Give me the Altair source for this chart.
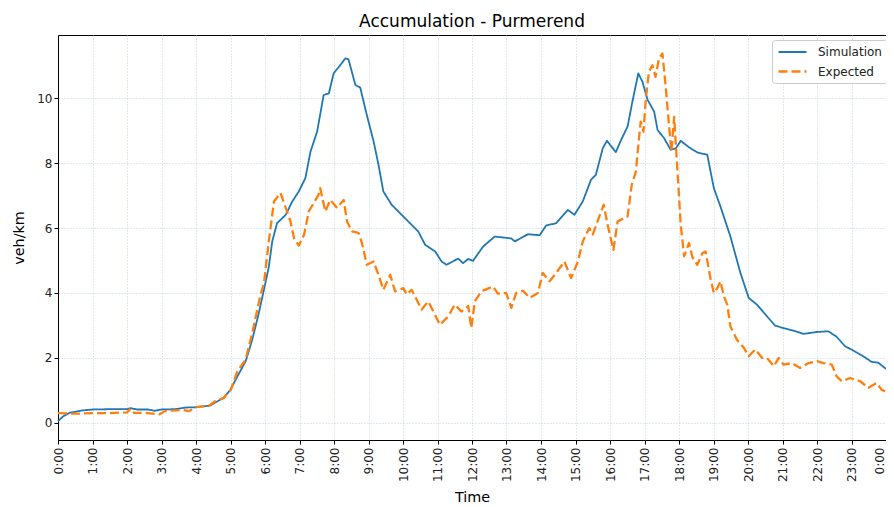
import altair as alt
import pandas as pd

# Simulation series (hours, veh/km)
sim_t = [0.0, 0.15, 0.34, 0.7, 1.0, 1.5, 2.0, 2.1, 2.3, 2.6, 2.8, 3.0, 3.4, 3.7, 4.0, 4.4, 4.6, 4.8,
         5.0, 5.2, 5.44, 5.63, 5.82, 6.0, 6.11, 6.21, 6.35, 6.6, 6.79, 6.98, 7.17, 7.32, 7.51, 7.7,
         7.85, 7.99, 8.18, 8.33, 8.42, 8.62, 8.76, 8.95, 9.15, 9.29, 9.43, 9.67, 9.96, 10.25, 10.44,
         10.64, 10.93, 11.12, 11.26, 11.6, 11.74, 11.89, 12.03, 12.32, 12.66, 13.14, 13.24, 13.62,
         13.96, 14.15, 14.44, 14.78, 14.97, 15.21, 15.45, 15.59, 15.79, 15.91, 16.17, 16.31, 16.51,
         16.65, 16.82, 16.94, 17.09, 17.28, 17.38, 17.57, 17.76, 17.91, 18.05, 18.29, 18.53, 18.82,
         19.01, 19.2, 19.49, 19.78, 20.02, 20.26, 20.55, 20.79, 21.03, 21.32, 21.61, 22.0, 22.33,
         22.57, 22.81, 23.05, 23.34, 23.58, 23.78, 24.0]
sim_v = [0.05, 0.2, 0.31, 0.38, 0.41, 0.42, 0.42, 0.45, 0.41, 0.41, 0.37, 0.41, 0.42, 0.47, 0.48, 0.53, 0.65, 0.77,
         1.02, 1.43, 1.9, 2.56, 3.38, 4.25, 4.8, 5.59, 6.15, 6.41, 6.82, 7.13, 7.54, 8.36, 8.97, 10.1,
         10.15, 10.77, 11.02, 11.23, 11.2, 10.41, 10.33, 9.49, 8.66, 7.95, 7.13, 6.72, 6.41, 6.1, 5.9,
         5.49, 5.28, 4.97, 4.87, 5.06, 4.92, 5.05, 4.99, 5.43, 5.74, 5.68, 5.59, 5.81,
         5.78, 6.08, 6.15, 6.56, 6.41, 6.82, 7.49, 7.64, 8.46, 8.69, 8.34, 8.69, 9.13,
         9.9, 10.77, 10.51, 9.95, 9.59, 9.02, 8.77, 8.41, 8.46, 8.69, 8.49, 8.33, 8.26,
         7.23, 6.67, 5.74, 4.62, 3.85, 3.64, 3.28, 2.99, 2.92, 2.84, 2.74, 2.8, 2.82,
         2.65, 2.36, 2.23, 2.05, 1.88, 1.85, 1.66]

# Expected series (hours, veh/km)
exp_t = [0.0, 0.5, 1.0, 1.5, 2.0, 2.1, 2.2, 2.6, 2.94, 3.1, 3.61, 3.8, 4.0, 4.38, 4.6, 4.8, 5.01, 5.2,
         5.44, 5.63, 5.87, 5.97, 6.11, 6.26, 6.45, 6.6, 6.74, 6.84, 6.98, 7.13, 7.27, 7.41, 7.55, 7.6,
         7.75, 7.89, 8.09, 8.28, 8.38, 8.52, 8.71, 8.81, 8.95, 9.15, 9.29, 9.43, 9.63, 9.77, 10.01,
         10.11, 10.25, 10.54, 10.73, 10.88, 11.07, 11.31, 11.5, 11.69, 11.89, 11.98, 12.08, 12.27,
         12.61, 12.75, 12.99, 13.14, 13.28, 13.48, 13.67, 13.91, 14.05, 14.25, 14.44, 14.68, 14.87,
         15.07, 15.21, 15.4, 15.5, 15.69, 15.82, 15.93, 16.1, 16.22, 16.41, 16.51, 16.63, 16.75,
         16.85, 16.89, 16.97, 17.04, 17.13, 17.23, 17.32, 17.42, 17.52, 17.61, 17.71, 17.78, 17.86,
         17.95, 18.05, 18.15, 18.29, 18.39, 18.53, 18.68, 18.77, 18.92, 19.01, 19.11, 19.2, 19.3,
         19.4, 19.49, 19.68, 19.88, 20.02, 20.21, 20.41, 20.55, 20.75, 20.89, 21.03, 21.27, 21.51,
         21.76, 22.0, 22.19, 22.43, 22.57, 22.72, 22.96, 23.25, 23.49, 23.73, 23.87, 23.97, 24.0]
exp_v = [0.3, 0.28, 0.3, 0.3, 0.32, 0.43, 0.31, 0.3, 0.26, 0.36, 0.4, 0.36, 0.48, 0.53, 0.7, 0.76, 1.02, 1.59,
         1.95, 2.77, 3.95, 4.3, 5.59, 6.82, 7.08, 6.62, 6.2, 5.69, 5.46, 5.79, 6.51, 6.77, 7.02, 7.23,
         6.51, 6.87, 6.62, 6.87, 6.2, 5.9, 5.85, 5.54, 4.87, 4.97, 4.56, 4.1, 4.56, 4.05, 4.15,
         3.95, 4.1, 3.49, 3.74, 3.43, 3.02, 3.28, 3.64, 3.43, 3.6, 2.92, 3.74, 4.05,
         4.2, 3.98, 4.0, 3.54, 4.0, 4.07, 3.85, 4.0, 4.62, 4.36, 4.62, 4.97, 4.46,
         4.97, 5.59, 6.0, 5.8, 6.36, 6.72, 6.1, 5.33, 6.2, 6.31, 6.36, 7.33, 7.74,
         8.87, 9.28, 8.97, 10.0, 10.82, 11.02, 10.66, 11.23, 11.38, 10.41, 9.18, 8.36, 9.43,
         7.85, 6.1, 5.13, 5.54, 5.1, 4.87, 5.23, 5.28, 4.41, 4.0, 4.15, 4.36, 3.9,
         3.64, 2.97, 2.56, 2.31, 2.05, 2.26, 2.0, 2.0, 1.74, 2.0, 1.79, 1.84, 1.69,
         1.84, 1.9, 1.84, 1.79, 1.43, 1.28, 1.38, 1.28, 1.08, 1.23, 1.02, 0.97, 0.95]

series_names = ["Simulation", "Expected"]
hour_ticks = list(range(0, 25))
y_ticks = [0, 2, 4, 6, 8, 10]

df = pd.concat([
    pd.DataFrame({"t": sim_t, "v": sim_v, "series": series_names[0], "order": range(len(sim_t))}),
    pd.DataFrame({"t": exp_t, "v": exp_v, "series": series_names[1], "order": range(len(exp_t))}),
])

FONT = "DejaVu Sans"

chart = alt.Chart(df).mark_line(strokeJoin="round").encode(
    x=alt.X("t:Q", scale=alt.Scale(domain=[0, 24], nice=False, zero=False),
            axis=alt.Axis(values=hour_ticks, labelAngle=-90,
                          labelExpr="(datum.value % 24) + ':00'", title="Time",
                          labelBaseline={"condition": {"test": "datum.value == 24",
                                                       "value": "bottom"},
                                         "value": "middle"},
                          titlePadding=9, labelPadding=3)),
    y=alt.Y("v:Q", scale=alt.Scale(domain=[-0.53, 11.95], nice=False, zero=False),
            axis=alt.Axis(values=y_ticks, title="veh/km", titlePadding=10)),
    color=alt.Color("series:N", title=None,
                    scale=alt.Scale(domain=series_names, range=["#1f77b4", "#ff7f0e"]),
                    legend=alt.Legend(orient="none", legendX=714, legendY=5,
                                      symbolType="M-1,0L3.667,0", symbolSize=144,
                                      symbolStrokeWidth=2.2, labelFontSize=12, labelFont=FONT,
                                      fillColor="white", strokeColor="#cccccc", cornerRadius=3,
                                      padding=5, rowPadding=6, labelOffset=26,
                                      labelColor="#222222")),
    strokeDash=alt.StrokeDash("series:N", title=None,
                              scale=alt.Scale(domain=series_names, range=[[1, 0], [9, 4]])),
    strokeWidth=alt.StrokeWidth("series:N", legend=None,
                                scale=alt.Scale(domain=series_names, range=[1.8, 2.3])),
    order="order:Q",
).properties(
    width=828,
    height=405,
    title=alt.TitleParams("Accumulation - Purmerend", fontSize=17, font=FONT,
                          fontWeight="normal", anchor="middle", offset=4, color="black"),
    autosize=alt.AutoSizeParams(type="none"),
    padding={"left": 50, "top": 27, "right": 0, "bottom": 65},
).configure_view(
    stroke="black", strokeWidth=1
).configure_axis(
    labelFont=FONT, titleFont=FONT, labelFontSize=12, titleFontSize=14.4,
    titleFontWeight="normal", labelColor="#222222", titleColor="black",
    tickColor="black", tickSize=4, domainColor="black",
    gridColor="#b0c4de", gridDash=[1, 2], gridWidth=0.8,
)

chart.save("out.html", embed_options={"renderer": "svg", "actions": False})
